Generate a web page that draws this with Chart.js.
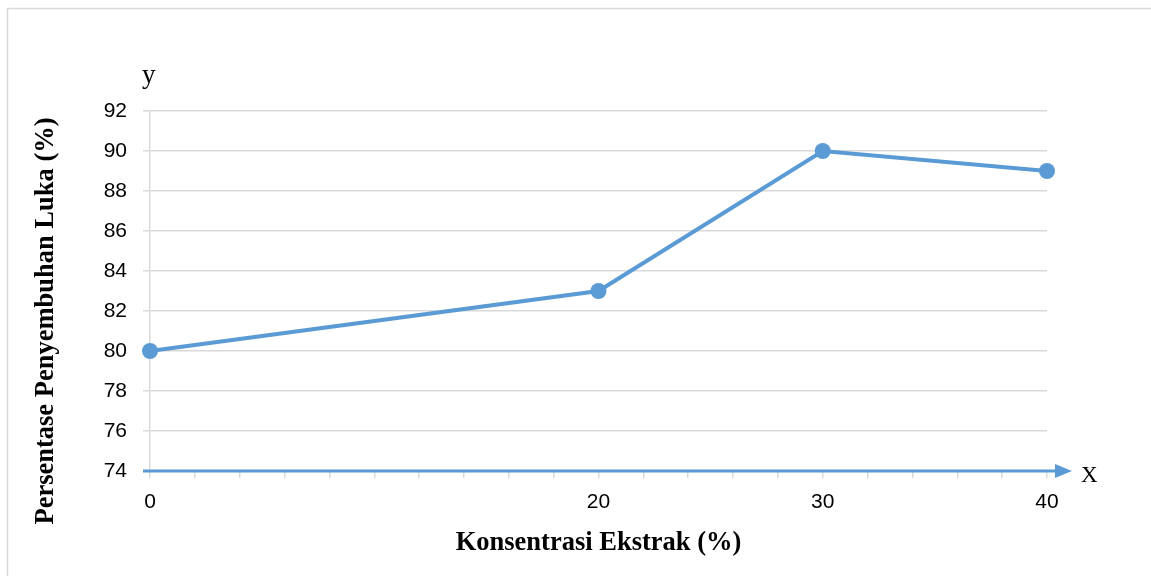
<!DOCTYPE html>
<html>
<head>
<meta charset="utf-8">
<script src="https://cdn.jsdelivr.net/npm/chart.js@4/dist/chart.umd.min.js"></script>
<style>
  html, body { margin: 0; padding: 0; background: #ffffff; }
  #wrap { position: relative; width: 1151px; height: 576px; }
</style>
</head>
<body>
<div id="wrap"><canvas id="c" width="1151" height="576"></canvas></div>
<script>
// Konsentrasi ekstrak (%) dan persentase penyembuhan luka (%)
const concentrations = [0, 20, 30, 40];
const healing = [80, 83, 90, 89];
const xTickLabels = [0, 20, 30, 40];
const yMin = 74, yMax = 92, yStep = 2;
const xMin = 0, xMax = 40, xStep = 2;
const xTitle = 'Konsentrasi Ekstrak (%)';
const yTitle = 'Persentase Penyembuhan Luka (%)';

const blue = '#5b9bd5';
const grid = '#d9d9d9';
const serif = '"Liberation Serif", "Times New Roman", serif';
const sans = '"Liberation Sans", Arial, sans-serif';

// Frame, arrowed x axis, axis titles and the "y" / "X" axis letters
const decorations = {
  id: 'decorations',
  beforeDraw(chart) {
    const ctx = chart.ctx;
    ctx.save();
    ctx.strokeStyle = grid;
    ctx.lineWidth = 1.5;
    ctx.beginPath();
    ctx.moveTo(7.5, 576);
    ctx.lineTo(7.5, 8.5);
    ctx.lineTo(1151, 8.5);
    ctx.stroke();
    ctx.restore();
  },
  afterDatasetsDraw(chart) {
    const ctx = chart.ctx;
    const xs = chart.scales.x, ys = chart.scales.y;
    const y0 = ys.getPixelForValue(yMin);
    const xStart = xs.getPixelForValue(xMin) - 7;
    const xEnd = xs.getPixelForValue(xMax);
    ctx.save();
    ctx.strokeStyle = blue;
    ctx.fillStyle = blue;
    ctx.lineWidth = 3;
    ctx.beginPath();
    ctx.moveTo(xStart, y0);
    ctx.lineTo(xEnd + 10, y0);
    ctx.stroke();
    ctx.beginPath();
    ctx.moveTo(xEnd + 8, y0 - 7);
    ctx.lineTo(xEnd + 25, y0);
    ctx.lineTo(xEnd + 8, y0 + 7);
    ctx.closePath();
    ctx.fill();

    ctx.fillStyle = '#000000';
    ctx.font = '23px ' + serif;
    ctx.textAlign = 'left';
    ctx.textBaseline = 'alphabetic';
    ctx.fillText('X', xEnd + 34, y0 + 11);
    ctx.font = '27px ' + serif;
    ctx.fillText('y', xs.getPixelForValue(xMin) - 8, ys.getPixelForValue(yMax) - 28);

    // axis titles
    ctx.font = 'bold 26.5px ' + serif;
    ctx.textAlign = 'center';
    ctx.textBaseline = 'middle';
    ctx.fillText(xTitle, (xs.left + xs.right) / 2, 543);
    ctx.translate(46, 321);
    ctx.rotate(-Math.PI / 2);
    ctx.fillText(yTitle, 0, 0);
    ctx.restore();
  }
};

new Chart(document.getElementById('c'), {
  type: 'line',
  data: {
    datasets: [{
      data: concentrations.map((x, i) => ({ x: x, y: healing[i] })),
      borderColor: blue,
      backgroundColor: blue,
      borderWidth: 4,
      pointRadius: 8,
      pointHoverRadius: 8,
      pointBackgroundColor: blue,
      pointBorderColor: blue,
      pointBorderWidth: 0,
      tension: 0,
      clip: false
    }]
  },
  options: {
    responsive: false,
    animation: false,
    events: [],
    layout: { padding: { left: 0, top: 111, right: 104, bottom: 0 } },
    plugins: { legend: { display: false }, tooltip: { enabled: false } },
    scales: {
      x: {
        type: 'linear',
        min: xMin, max: xMax,
        afterFit(s) { s.height = 105; },
        border: { display: false },
        grid: { drawOnChartArea: false, drawTicks: true, tickLength: 7, color: grid, lineWidth: 1.5 },
        ticks: {
          stepSize: xStep,
          autoSkip: false,
          maxRotation: 0,
          padding: 12,
          color: '#000000',
          font: { family: sans, size: 21 },
          callback: v => xTickLabels.includes(v) ? String(v) : ''
        }
      },
      y: {
        type: 'linear',
        min: yMin, max: yMax,
        afterFit(s) { s.width = 150; },
        border: { display: true, color: grid, width: 1.5 },
        grid: { drawTicks: true, tickLength: 7, color: grid, lineWidth: 1.5 },
        ticks: {
          stepSize: yStep,
          padding: 16,
          color: '#000000',
          font: { family: sans, size: 21 }
        }
      }
    }
  },
  plugins: [decorations]
});
</script>
</body>
</html>
